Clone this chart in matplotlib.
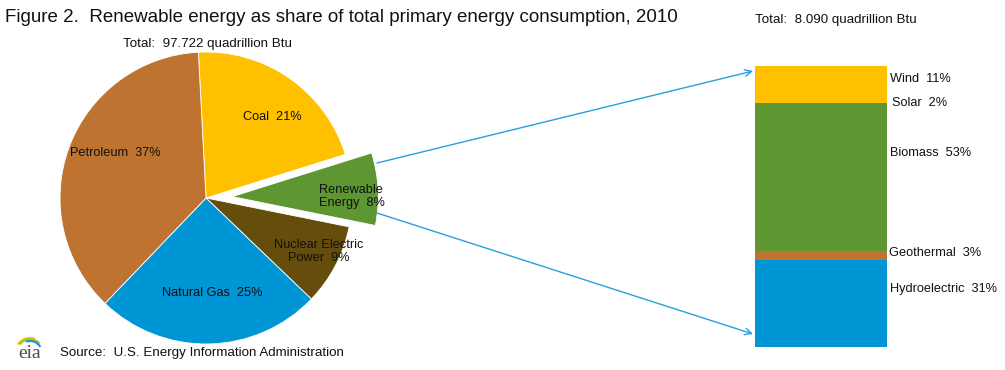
import matplotlib
matplotlib.use("Agg")
import matplotlib.pyplot as plt
from matplotlib.patches import Arc

# ---- data ----
pie_labels = ["Coal  21%", "Renewable\nEnergy  8%", "Nuclear Electric\nPower  9%",
              "Natural Gas  25%", "Petroleum  37%"]
pie_shares = [21, 8, 9, 25, 37]
pie_colors = ["#FFC000", "#5E9732", "#654D0B", "#0096D6", "#BE7430"]

bar_labels = ["Hydroelectric  31%", "Geothermal  3%", "Biomass  53%", "Solar  2%", "Wind  11%"]
bar_shares = [31, 3, 53, 2, 11]
bar_colors = ["#0096D6", "#BE7430", "#5E9732", "#FFC000", "#FFC000"]

title = "Figure 2.  Renewable energy as share of total primary energy consumption, 2010"
pie_total = "Total:  97.722 quadrillion Btu"
bar_total = "Total:  8.090 quadrillion Btu"
source = "Source:  U.S. Energy Information Administration"

plt.rcParams["font.family"] = ["Liberation Sans", "DejaVu Sans"]

W, H = 1005, 370
fig = plt.figure(figsize=(W / 100, H / 100), dpi=100)

# ---- pie ----
R = 146
cx, cy = 206, 198
half = 175
pax = fig.add_axes([(cx - half) / W, (H - cy - half) / H, 2 * half / W, 2 * half / H])
pax.pie(pie_shares, colors=pie_colors, startangle=93, counterclock=False,
        radius=1, explode=[0, 0.18, 0, 0, 0],
        wedgeprops=dict(edgecolor="white", linewidth=0.6))
pax.set_xlim(-half / R, half / R)
pax.set_ylim(-half / R, half / R)
pax.set_aspect("auto")
pax.axis("off")

# ---- stacked bar ----
bx0, bx1, by0, by1 = 755, 887, 66, 347
bax = fig.add_axes([bx0 / W, (H - by1) / H, (bx1 - bx0) / W, (by1 - by0) / H])
bottom = 0
for v, c in zip(bar_shares, bar_colors):
    bax.bar(0, v, bottom=bottom, width=1, color=c, edgecolor="none")
    bottom += v
bax.set_xlim(-0.5, 0.5)
bax.set_ylim(0, sum(bar_shares))
bax.axis("off")

# overlay axes in pixel coordinates (y down), drawn on top
bg = fig.add_axes([0, 0, 1, 1])
bg.set_xlim(0, W)
bg.set_ylim(H, 0)
bg.axis("off")

txt = dict(fontsize=9.2, color="#111111")
bg.text(272, 117, pie_labels[0], ha="center", va="center", **txt)
bg.text(319, 196.5, pie_labels[1], ha="left", va="center", linespacing=1.15, **txt)
bg.text(319, 251.5, pie_labels[2], ha="center", va="center", linespacing=1.15, **txt)
bg.text(212, 293, pie_labels[3], ha="center", va="center", **txt)
bg.text(115, 153, pie_labels[4], ha="center", va="center", **txt)

label_y = {"Wind  11%": 79, "Solar  2%": 103.5, "Biomass  53%": 153,
           "Geothermal  3%": 253.5, "Hydroelectric  31%": 289}
label_x = {"Wind  11%": 890, "Solar  2%": 892, "Biomass  53%": 890,
           "Geothermal  3%": 889, "Hydroelectric  31%": 890}
for lab in bar_labels:
    bg.text(label_x[lab], label_y[lab], lab, ha="left", va="center", **txt)

# ---- arrows ----
acol = "#2A9FDB"
for (x0, y0), (x1, y1) in [((377, 163), (753, 71)), ((377, 213), (753, 334))]:
    bg.annotate("", xy=(x1, y1), xytext=(x0, y0),
                arrowprops=dict(arrowstyle="->", color=acol, lw=1.0,
                                shrinkA=0, shrinkB=0, mutation_scale=12))

# ---- texts ----
bg.text(5, 18, title, ha="left", va="center", fontsize=13.5, color="#111111")
bg.text(207.5, 44.5, pie_total, ha="center", va="center", fontsize=9.6, color="#111111")
bg.text(755, 20, bar_total, ha="left", va="center", fontsize=9.6, color="#111111")
bg.text(60, 353, source, ha="left", va="center", fontsize=9.6, color="#111111")

# eia logo
bg.text(30, 353, "eia", ha="center", va="center", fontsize=14,
        family="Liberation Serif", color="#4A4A4A")
for r, col, t1, t2 in [(15, "#F5C400", 215, 290), (13.5, "#8CC63F", 220, 315),
                       (12, "#1E90D6", 250, 330)]:
    bg.add_patch(Arc((30, 353), 2 * r, 2 * r, theta1=t1, theta2=t2,
                     color=col, lw=1.5))

fig.savefig("out.png", dpi=100)
